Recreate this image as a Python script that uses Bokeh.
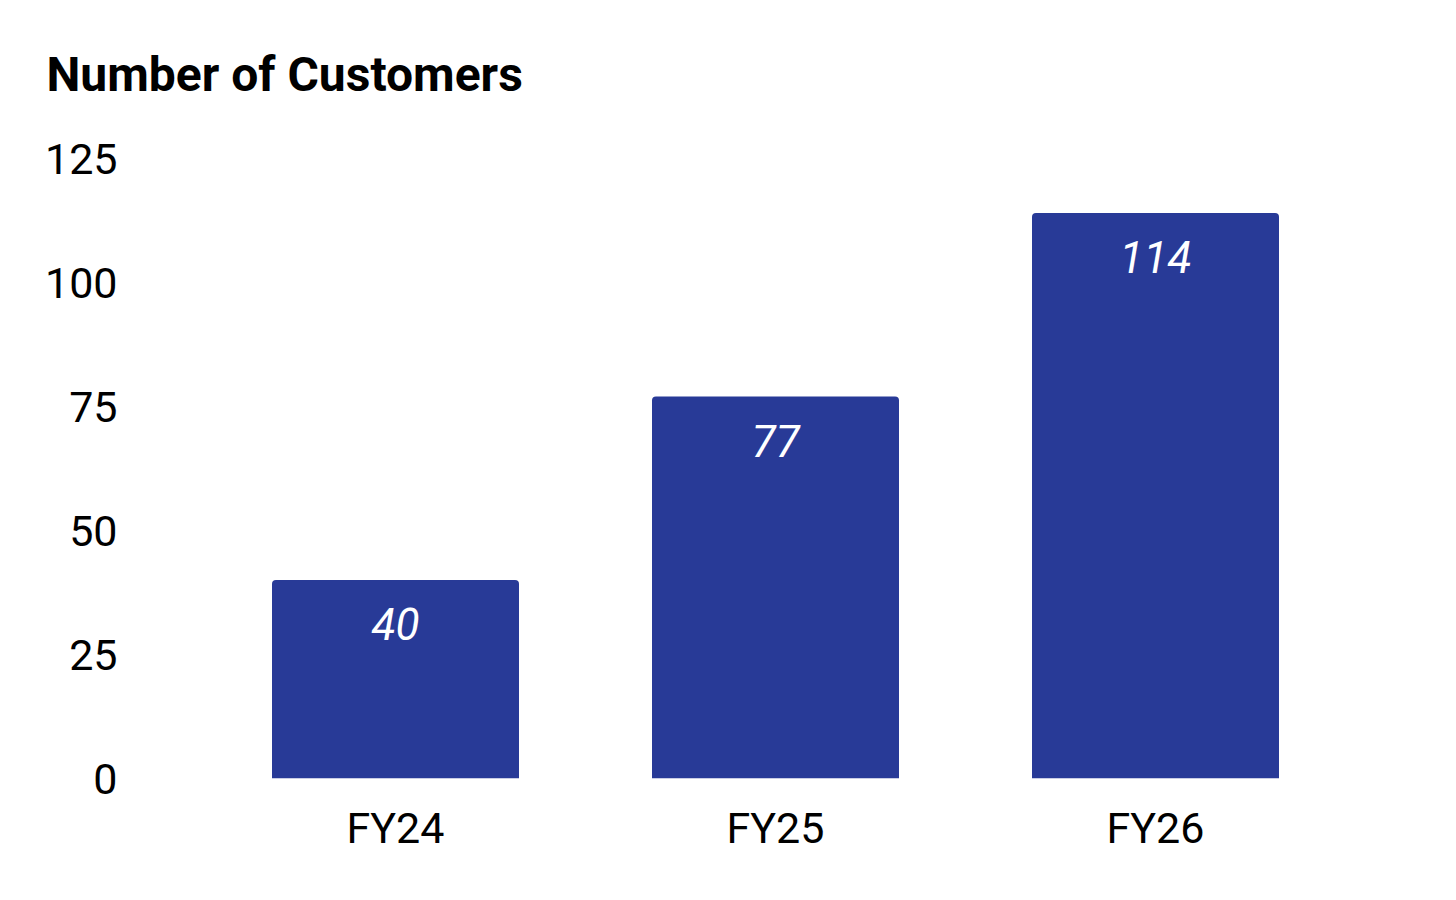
from bokeh.plotting import figure
from bokeh.models import ColumnDataSource, FactorRange, Range1d, FixedTicker, Title
from bokeh.embed import file_html
from bokeh.resources import INLINE
from bokeh.core.properties import value

categories = ["FY24", "FY25", "FY26"]
customers = [40, 77, 114]
y_ticks = [0, 25, 50, 75, 100, 125]
title_text = "Number of Customers"

BAR_COLOR = "#283a97"

src = ColumnDataSource(dict(
    cat=categories,
    val=customers,
    lbl=[str(v) for v in customers],
))

p = figure(
    width=1440, height=880,
    x_range=FactorRange(*categories),
    y_range=Range1d(0, 133.27),
    output_backend="svg", toolbar_location=None,
    min_border_left=205, min_border_right=95,
    min_border_top=117, min_border_bottom=102,
)
p.title = Title(text=title_text, align="left", offset=-159, standoff=30,
                text_font_size="48px", text_font="Roboto", text_font_style="bold",
                text_color="#000000")

p.vbar(x="cat", top="val", bottom=0, width=0.65, source=src,
       fill_color=BAR_COLOR, line_color=None, border_radius=(4, 4, 0, 0))

p.text(x="cat", y="val", text="lbl", source=src, y_offset=44,
       text_align="center", text_baseline="middle",
       text_font=value("Roboto"), text_font_style="italic",
       text_font_size="44px", text_color="white")

p.outline_line_color = None
p.xgrid.grid_line_color = None
p.ygrid.grid_line_color = None
p.background_fill_color = "white"
p.border_fill_color = "white"

for ax in (p.xaxis[0], p.yaxis[0]):
    ax.axis_line_color = None
    ax.major_tick_line_color = None
    ax.minor_tick_line_color = None
    ax.major_label_text_font = "Roboto"
    ax.major_label_text_font_size = "43px"
    ax.major_label_text_color = "#000000"

p.yaxis[0].ticker = FixedTicker(ticks=y_ticks)
p.yaxis[0].major_label_standoff = 82
p.xaxis[0].major_label_standoff = 18

open("out.html", "w").write(file_html(p, INLINE))
